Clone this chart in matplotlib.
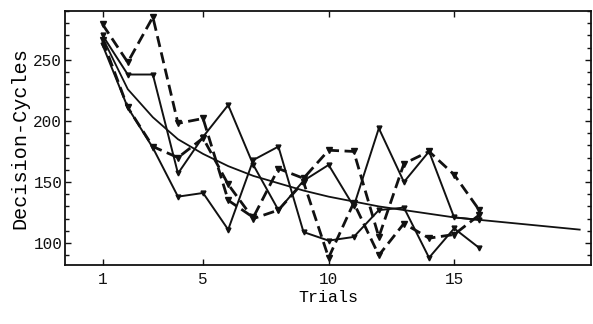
import numpy as np
import matplotlib.pyplot as plt
from matplotlib.ticker import MultipleLocator

# four runs of decision cycles per trial, plus the fitted curve
trials = np.arange(1, 17)
run_a = [262, 211, 178, 138, 141, 111, 168, 179, 109, 102, 105, 127, 129, 88, 112, 96]
run_b = [270, 238, 238, 157, 187, 213, 164, 127, 151, 164, 130, 194, 150, 175, 121, 119]
run_c = [279, 248, 285, 198, 202, 135, 121, 161, 153, 176, 175, 105, 165, 175, 156, 127]
run_d = [266, 211, 179, 170, 186, 148, 120, 127, 150, 88, 133, 90, 116, 104, 107, 123]

fit_x = np.arange(1, 21)
fit_y = [268, 226, 203, 185, 173, 163, 155, 149, 143, 138,
         134, 130, 127, 124, 121, 119, 117, 115, 113, 111]

mono = "Liberation Mono"
ink = "#111111"

fig = plt.figure(figsize=(5.93, 3.24), dpi=100)
ax = fig.add_axes([0.1096, 0.182, 0.887, 0.784])

ax.plot(trials, run_a, color=ink, lw=1.4, marker="v", ms=3.5)
ax.plot(trials, run_b, color=ink, lw=1.4, marker="v", ms=3.5)
ax.plot(trials, run_c, color=ink, lw=2.0, ls=(0, (4, 2)), marker="v", ms=5)
ax.plot(trials, run_d, color=ink, lw=2.0, ls=(0, (4, 2)), marker="v", ms=5)
ax.plot(fit_x, fit_y, color=ink, lw=1.3)

ax.set_xlim(-0.5, 20.45)
ax.set_ylim(82, 290)
ax.set_xticks([1, 5, 10, 15])
ax.set_yticks([100, 150, 200, 250])
ax.yaxis.set_minor_locator(MultipleLocator(10))

ax.tick_params(which="both", direction="in", top=True, right=True, colors=ink)
ax.tick_params(which="major", length=4, width=1)
ax.tick_params(which="minor", length=3, width=1)
ax.tick_params(axis="x", pad=5)
ax.tick_params(axis="y", pad=2)
for lab in ax.get_xticklabels() + ax.get_yticklabels():
    lab.set_fontfamily(mono)
    lab.set_fontsize(11.5)

for s in ax.spines.values():
    s.set_linewidth(1.3)
    s.set_color(ink)

ax.set_xlabel("Trials", fontfamily=mono, fontsize=12, labelpad=2)
ax.set_ylabel("Decision-Cycles", fontfamily=mono, fontsize=14.5, labelpad=3)

fig.savefig("out.png", dpi=100)
